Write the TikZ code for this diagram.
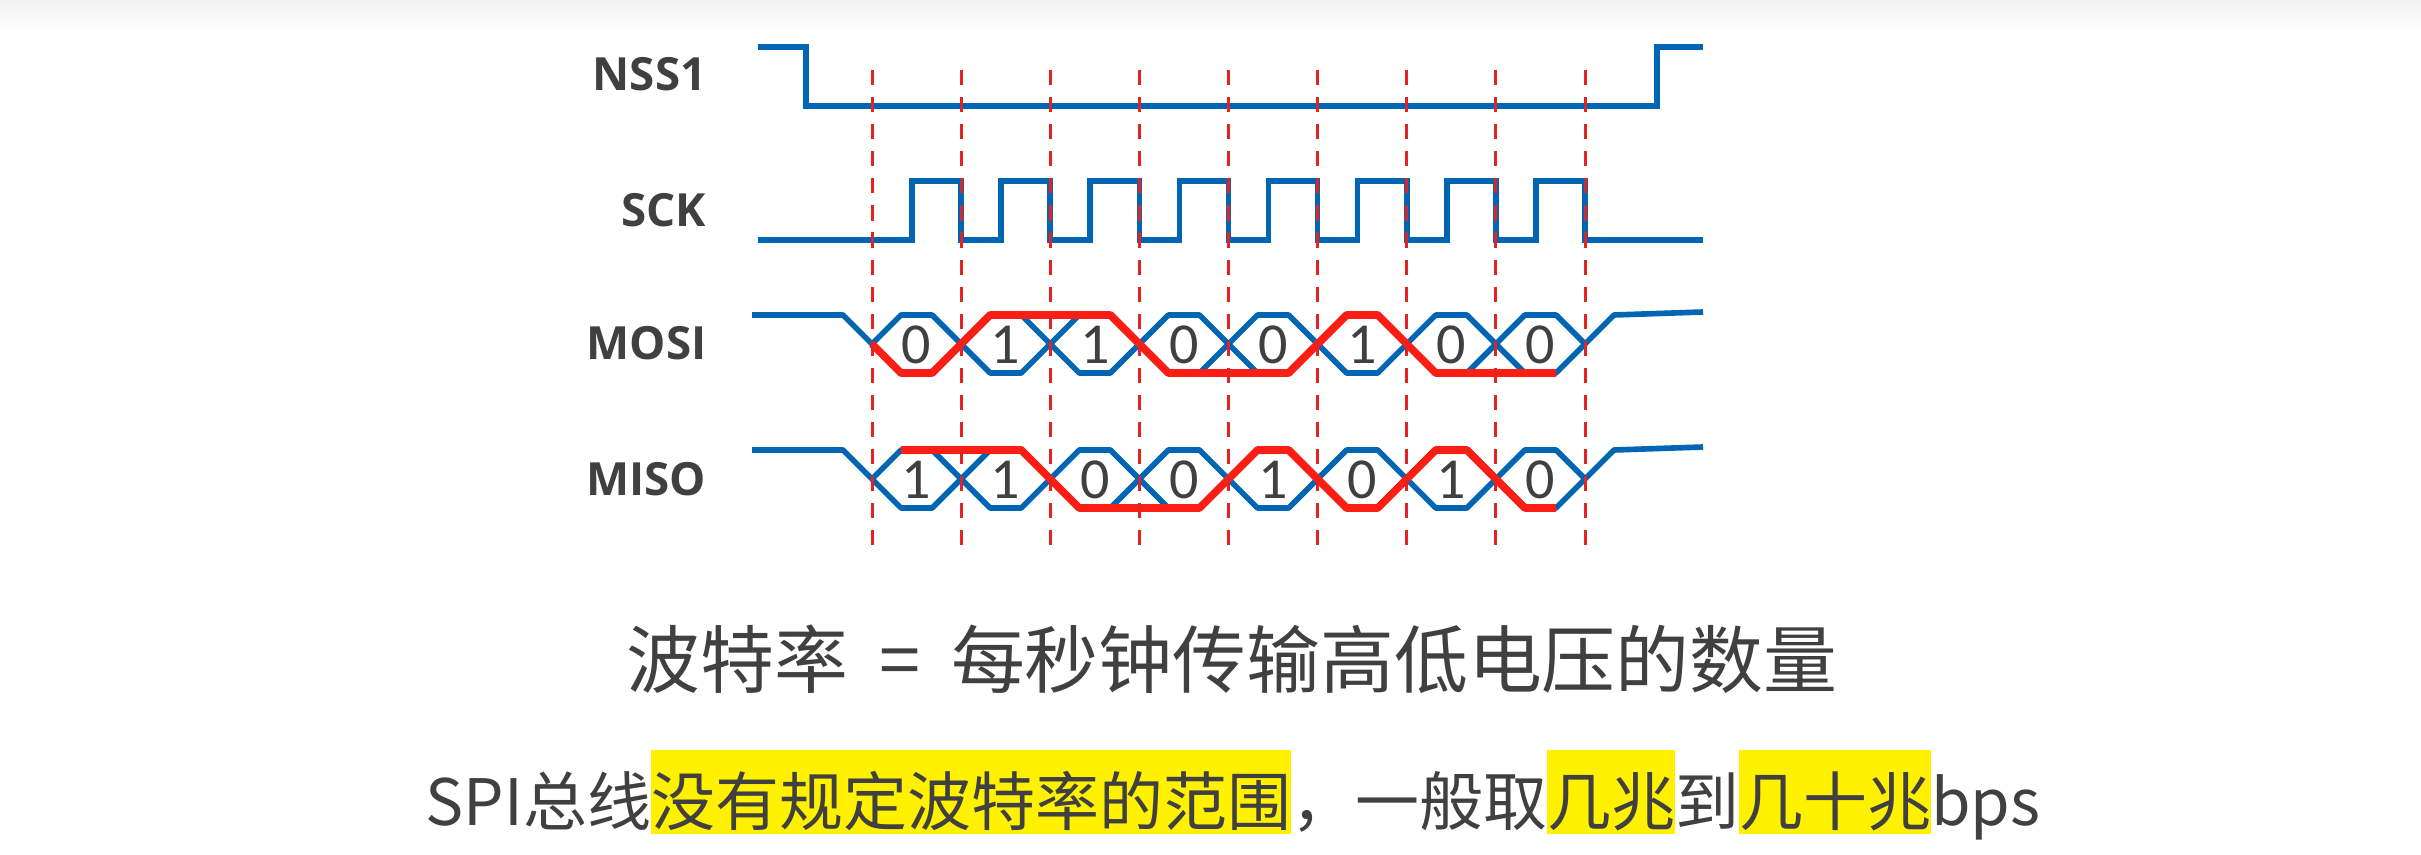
\documentclass[tikz,border=0pt]{standalone}
\usepackage{fontspec}
\newfontfamily\cjk{Noto Sans CJK SC}
\newfontfamily\lblfont{Open Sans}
\newfontfamily\bitfont{Carlito}
\definecolor{sigblue}{RGB}{0,102,180}
\definecolor{bitred}{RGB}{250,30,20}
\definecolor{gridred}{RGB}{225,35,35}
\definecolor{txtgray}{RGB}{64,64,64}
\definecolor{hlyellow}{RGB}{255,241,0}
\newcommand{\hl}[1]{{\setlength{\fboxsep}{0pt}\colorbox{hlyellow}{\rule[-0.14em]{0pt}{1.31em}#1}}}

\begin{document}
\begin{tikzpicture}[x=0.01cm, y=-0.01cm,
    declare function={dx(\k)=872+89.125*\k;},
    sigline/.style={sigblue, line width=1.6pt},
    bitline/.style={bitred, line width=2.2pt, line join=round},
    dashline/.style={gridred, line width=0.85pt, dash pattern=on 4.3pt off 3.4pt},
    lbl/.style={anchor=east, inner sep=0pt, text=txtgray, font=\lblfont\bfseries\fontsize{13}{13}\selectfont},
    bitlabel/.style={inner sep=0pt, text=txtgray, font=\bitfont\fontsize{16.5}{16.5}\selectfont},
    textline/.style={anchor=base, inner sep=0pt, text=txtgray}]
    \useasboundingbox (0,0) rectangle (2421,855);
    \shade[top color=black!5, bottom color=white] (0,0) rectangle (2421,32);

    % signal names
    \node[lbl] (nss) at (707,74) {NSS1};
    \node[lbl] (sck) at (707,210) {SCK};
    \node[lbl] (mosi) at (707,343) {MOSI};
    \node[lbl] (miso) at (707,479) {MISO};

    % NSS1 and SCK
    \draw[sigline] (758,47) -| (806,106) -| (1657,47) -- (1703,47);
    \draw[sigline] (758,240) \foreach \i in {0,...,7} {
        -- ({dx(\i)+40},240) |- ({dx(\i+1)},181) -- ({dx(\i+1)},240) } -- (1703,240);

    % MOSI
    \draw[sigline, line join=round] (752,315) -- ({dx(0)-29},315) -- ({dx(0)},344)
        \foreach \i in {0,...,7} { -- ({dx(\i)+29},315) -- ({dx(\i+1)-29},315) -- ({dx(\i+1)},344) }
        -- ({dx(8)+29},315) -- (1703,312);
    \draw[sigline, line join=round] ({dx(0)},344)
        \foreach \i in {0,...,7} { -- ({dx(\i)+29},373) -- ({dx(\i+1)-29},373) -- ({dx(\i+1)},344) };
    \draw[bitline] ({dx(0)},344) \foreach \b [count=\i from 0] in {0,1,1,0,0,1,0,0} {
        -- ({dx(\i)+29},{373-58*\b}) -- ({dx(\i+1)-29},{373-58*\b}) };
    \foreach \b [count=\i from 0] in {0,1,1,0,0,1,0,0}
        \node[bitlabel] (mosi\i) at ({dx(\i)+44.5},345) {\b};

    % MISO
    \draw[sigline, line join=round] (752,450) -- ({dx(0)-29},450) -- ({dx(0)},479)
        \foreach \i in {0,...,7} { -- ({dx(\i)+29},450) -- ({dx(\i+1)-29},450) -- ({dx(\i+1)},479) }
        -- ({dx(8)+29},450) -- (1703,447);
    \draw[sigline, line join=round] ({dx(0)},479)
        \foreach \i in {0,...,7} { -- ({dx(\i)+29},508) -- ({dx(\i+1)-29},508) -- ({dx(\i+1)},479) };
    \draw[bitline] ({dx(0)+29},450) \foreach \b [count=\i from 0] in {1,1,0,0,1,0,1,0} {
        -- ({dx(\i)+29},{508-58*\b}) -- ({dx(\i+1)-29},{508-58*\b}) };
    \foreach \b [count=\i from 0] in {1,1,0,0,1,0,1,0}
        \node[bitlabel] (miso\i) at ({dx(\i)+44.5},480) {\b};

    % clock edges
    \foreach \k in {0,...,8}
        \draw[dashline] ({dx(\k)},70) -- ({dx(\k)},545);

    % text
    \node[textline, font=\cjk\fontsize{21}{21}\selectfont] (rate) at (1232,687)
        {波特率\hspace{0.42em}=\hspace{0.42em}每秒钟传输高低电压的数量};
    \node[textline, font=\cjk\fontsize{18.2}{18.2}\selectfont] (range) at (1233,825)
        {SPI总线\hl{没有规定波特率的范围}，一般取\hl{几兆}到\hl{几十兆}bps};
\end{tikzpicture}
\end{document}
